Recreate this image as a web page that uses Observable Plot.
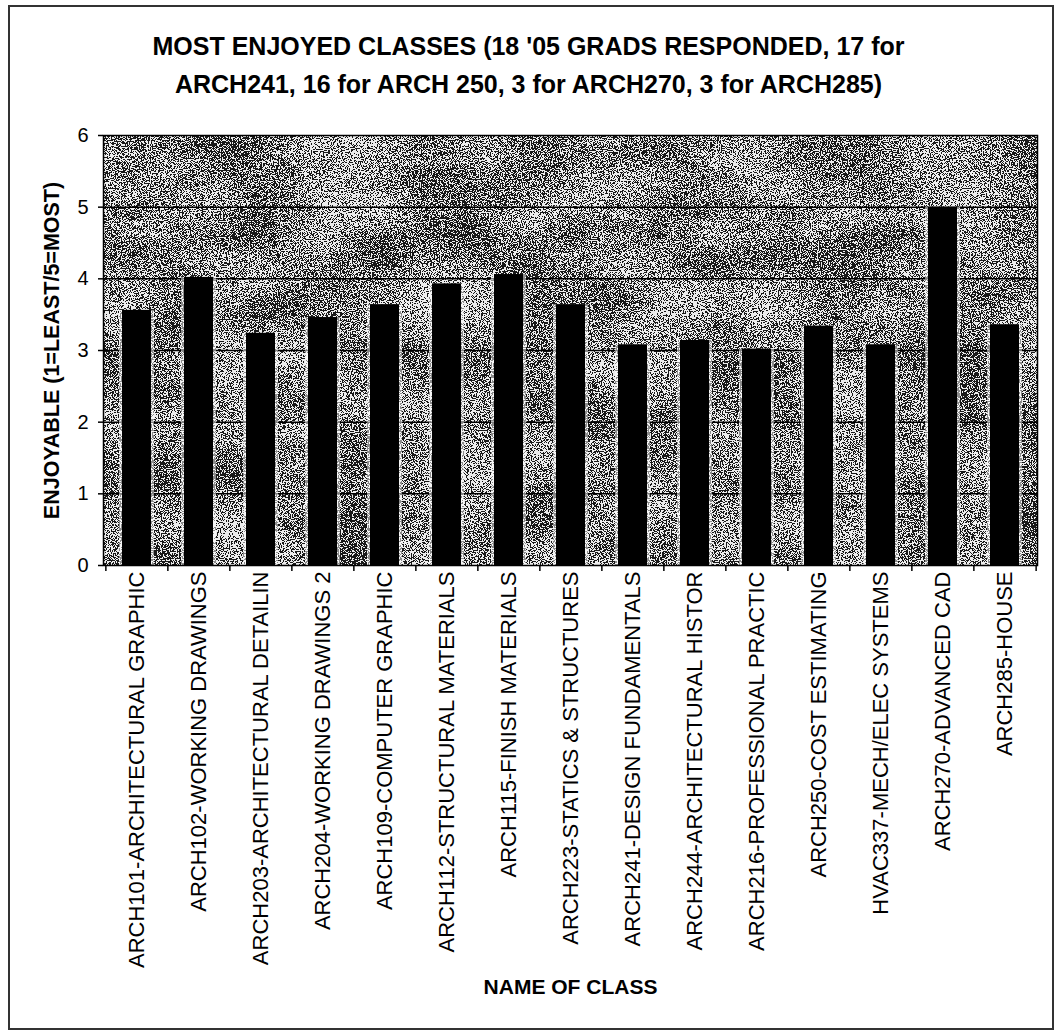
<!DOCTYPE html>
<html>
<head>
<meta charset="utf-8">
<script src="https://cdn.jsdelivr.net/npm/d3@7"></script>
<script src="https://cdn.jsdelivr.net/npm/@observablehq/plot@0.6"></script>
<style>
  html, body { margin: 0; padding: 0; background: #fff; }
  #page { position: relative; width: 1057px; height: 1031px; overflow: hidden; font-family: Arial, "Liberation Sans", sans-serif; }
  #border { position: absolute; left: 8px; top: 5px; width: 1042px; height: 1021px; border: 2px solid #333; box-sizing: content-box; pointer-events: none; }
  #title { height: 110px; position: relative; }
  #title div { position: absolute; left: 0; width: 1057px; text-align: center; font-weight: bold; font-size: 25px; line-height: 25px; color: #000; white-space: nowrap; }
  #chart svg { display: block; }
</style>
</head>
<body>
<div id="page">
  <div id="title">
    <div id="t1" style="top: 34px;">MOST ENJOYED CLASSES (18 '05 GRADS RESPONDED, 17 for</div>
    <div id="t2" style="top: 72px;">ARCH241, 16 for ARCH 250, 3 for ARCH270, 3 for ARCH285)</div>
  </div>
  <div id="chart"></div>
  <div id="border"></div>
</div>
<script>
// Class names as printed along the category axis
const classes = [
  "ARCH101-ARCHITECTURAL GRAPHIC",
  "ARCH102-WORKING DRAWINGS",
  "ARCH203-ARCHITECTURAL DETAILIN",
  "ARCH204-WORKING DRAWINGS 2",
  "ARCH109-COMPUTER GRAPHIC",
  "ARCH112-STRUCTURAL MATERIALS",
  "ARCH115-FINISH MATERIALS",
  "ARCH223-STATICS & STRUCTURES",
  "ARCH241-DESIGN FUNDAMENTALS",
  "ARCH244-ARCHITECTURAL HISTOR",
  "ARCH216-PROFESSIONAL PRACTIC",
  "ARCH250-COST ESTIMATING",
  "HVAC337-MECH/ELEC SYSTEMS",
  "ARCH270-ADVANCED CAD",
  "ARCH285-HOUSE"
];

// Average enjoyment score (1 = least, 5 = most)
const scores = [3.56, 4.02, 3.24, 3.46, 3.64, 3.93, 4.06, 3.64, 3.08, 3.14, 3.02, 3.34, 3.08, 5.0, 3.36];

// Value axis ticks and gridlines
const yTicks = [0, 1, 2, 3, 4, 5, 6];
const gridLines = [1, 2, 3, 4, 5];

const yTitle = "ENJOYABLE (1=LEAST/5=MOST)";
const xTitle = "NAME OF CLASS";

const data = classes.map((name, i) => ({name, score: scores[i]}));

const W = 1057, H = 921;
const mTop = 25, mBottom = 466, mLeft = 103, mRight = 20;
const step = (W - mLeft - mRight) / classes.length;
const font = "Arial, 'Liberation Sans', sans-serif";

const chart = Plot.plot({
  width: W,
  height: H,
  marginTop: mTop,
  marginBottom: mBottom,
  marginLeft: mLeft,
  marginRight: mRight,
  style: {fontFamily: font, color: "#000", background: "transparent", overflow: "visible"},
  x: {domain: classes, paddingInner: 0.54, paddingOuter: 0.27, label: null},
  y: {domain: [0, 6], label: null},
  marks: [
    // textured plot area (filter attached below)
    Plot.frame({fill: "#808080"}),
    Plot.ruleY(gridLines, {stroke: "#000", strokeWidth: 1.5}),
    // light halo around each column
    Plot.barY(data, {x: "name", y: "score", fill: "#fff", fillOpacity: 0.5, insetLeft: -3, insetRight: -3}),
    Plot.barY(data, {x: "name", y: "score", fill: "#000"}),
    // category boundary ticks below the axis
    Plot.ruleX(classes, {x: d => d, dx: -step / 2, y1: 0, y2: 0, insetTop: 6, stroke: "#000", strokeWidth: 1.5}),
    Plot.ruleX(classes.slice(-1), {x: d => d, dx: step / 2, y1: 0, y2: 0, insetTop: 6, stroke: "#000", strokeWidth: 1.5}),
    Plot.frame({stroke: "#000", strokeWidth: 1.5}),
    Plot.axisY({ticks: yTicks, tickSize: 5, tickPadding: 10, fontSize: 20, tickFormat: d => String(d), label: null, strokeWidth: 1.5}),
    Plot.axisX({tickSize: 0, tickPadding: 6, tickRotate: -90, fontSize: 22, label: null}),
    Plot.text([yTitle], {text: d => d, frameAnchor: "left", textAnchor: "middle", dx: -51, rotate: -90, fontWeight: "bold", fontSize: 21.5, fill: "#000"}),
    Plot.text([xTitle], {text: d => d, frameAnchor: "bottom", dy: 428, lineAnchor: "bottom", fontWeight: "bold", fontSize: 21, fill: "#000"})
  ]
});

// speckled grey fill for the plotting area
const ns = "http://www.w3.org/2000/svg";
const defs = document.createElementNS(ns, "defs");
defs.innerHTML = `
  <filter id="grain" x="0" y="0" width="1" height="1" filterUnits="objectBoundingBox" color-interpolation-filters="sRGB">
    <feTurbulence type="fractalNoise" baseFrequency="0.9" numOctaves="3" seed="11" result="fineRaw"/>
    <feColorMatrix in="fineRaw" type="matrix" values="1 0 0 0 0  1 0 0 0 0  1 0 0 0 0  0 0 0 0 1" result="fine"/>
    <feTurbulence type="fractalNoise" baseFrequency="0.01 0.018" numOctaves="3" seed="4" result="coarseRaw"/>
    <feColorMatrix in="coarseRaw" type="matrix" values="1 0 0 0 0  1 0 0 0 0  1 0 0 0 0  0 0 0 0 1" result="coarse"/>
    <feComposite in="fine" in2="coarse" operator="arithmetic" k1="0" k2="1" k3="0.22" k4="-0.11" result="mix"/>
    <feComponentTransfer in="mix">
      <feFuncR type="discrete" tableValues="0.1 0.93"/>
      <feFuncG type="discrete" tableValues="0.1 0.93"/>
      <feFuncB type="discrete" tableValues="0.1 0.93"/>
      <feFuncA type="linear" slope="0" intercept="1"/>
    </feComponentTransfer>
  </filter>`;
chart.insertBefore(defs, chart.firstChild);
const frames = chart.querySelectorAll('[aria-label="frame"]');
if (frames.length) frames[0].setAttribute("filter", "url(#grain)");

document.getElementById("chart").appendChild(chart);
</script>
</body>
</html>
